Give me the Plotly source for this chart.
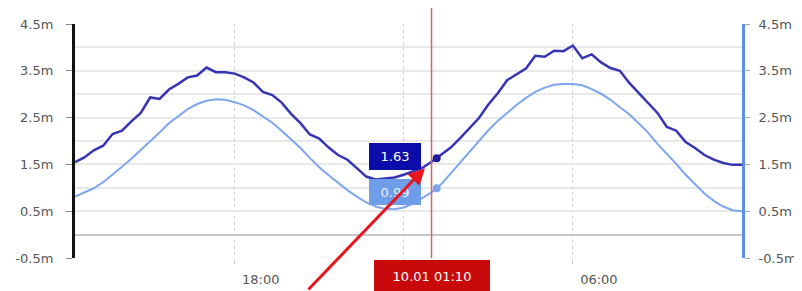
import pandas as pd
import plotly.graph_objects as go

# ---- data ----
times = pd.date_range("2023-09-30 12:20", "2023-10-01 12:00", freq="20min")
measured = [1.55, 1.65, 1.80, 1.90, 2.15, 2.22, 2.42, 2.60, 2.93, 2.90,
            3.10, 3.22, 3.36, 3.40, 3.57, 3.47, 3.47, 3.44, 3.36, 3.25,
            3.05, 2.98, 2.82, 2.58, 2.38, 2.14, 2.05, 1.86, 1.70, 1.60,
            1.42, 1.24, 1.18, 1.20, 1.22, 1.28, 1.36, 1.43, 1.56, 1.72,
            1.86, 2.06, 2.28, 2.49, 2.78, 3.02, 3.30, 3.42, 3.55, 3.82,
            3.80, 3.93, 3.92, 4.04, 3.77, 3.85, 3.68, 3.56, 3.50, 3.24,
            3.02, 2.80, 2.60, 2.30, 2.22, 1.98, 1.85, 1.70, 1.60, 1.53,
            1.49, 1.49]
predicted = [0.81, 0.90, 0.99, 1.12, 1.28, 1.45, 1.62, 1.80, 1.99, 2.18,
             2.38, 2.54, 2.68, 2.79, 2.86, 2.89, 2.88, 2.83, 2.76, 2.66,
             2.53, 2.39, 2.22, 2.04, 1.85, 1.64, 1.44, 1.27, 1.10, 0.95,
             0.81, 0.69, 0.60, 0.55, 0.54, 0.58, 0.66, 0.78, 0.91, 1.08,
             1.31, 1.55, 1.78, 2.01, 2.23, 2.43, 2.61, 2.77, 2.92, 3.05,
             3.14, 3.20, 3.22, 3.22, 3.19, 3.11, 3.01, 2.88, 2.72, 2.57,
             2.38, 2.18, 1.94, 1.73, 1.51, 1.28, 1.07, 0.88, 0.72, 0.60,
             0.52, 0.50]

hover_time = "2023-10-01 01:10"
hover_label = "10.01 01:10"
hover_measured = 1.63
hover_predicted = 0.99
crosshair_time = "2023-10-01 00:59"

y_tickvals = [-0.5, 0.5, 1.5, 2.5, 3.5, 4.5]
y_ticktext = ["-0.5m", "0.5m", "1.5m", "2.5m", "3.5m", "4.5m"]
y_minor = [0, 1, 2, 3, 4]
x_tickvals = ["2023-09-30 18:00", "2023-10-01 00:00", "2023-10-01 06:00"]
x_ticktext = ["18:00", "", "06:00"]

arrow_time = "2023-10-01 00:45"
arrow_value = 1.42

DARK = "#3535b5"
LIGHT = "#7ea6ee"
FONT = "DejaVu Sans"

fig = go.Figure()
fig.add_trace(go.Scatter(x=times, y=measured, mode="lines",
                         line=dict(color=DARK, width=2.5), yaxis="y"))
fig.add_trace(go.Scatter(x=times, y=predicted, mode="lines",
                         line=dict(color=LIGHT, width=2), yaxis="y2"))
fig.add_trace(go.Scatter(x=[hover_time], y=[hover_measured], mode="markers",
                         marker=dict(color="#1c1ca0", size=8), yaxis="y"))
fig.add_trace(go.Scatter(x=[hover_time], y=[hover_predicted], mode="markers",
                         marker=dict(color=LIGHT, size=8), yaxis="y2"))

# crosshair
fig.add_shape(type="line", xref="x", yref="paper", x0=crosshair_time, x1=crosshair_time,
              y0=0, y1=1.08, line=dict(color="#e06060", width=1.5), layer="above")

# hover labels
fig.add_annotation(x=hover_time, y=hover_measured, xref="x", yref="y",
                   text=f"{hover_measured:.2f}", showarrow=False,
                   xanchor="right", yanchor="middle", xshift=-16, yshift=2,
                   bgcolor="#0c0caa", bordercolor="#0c0caa", borderpad=5,
                   width=40, height=15,
                   font=dict(family=FONT, size=13, color="white"))
fig.add_annotation(x=hover_time, y=hover_predicted, xref="x", yref="y2",
                   text=f"{hover_predicted:.2f}", showarrow=False,
                   xanchor="right", yanchor="middle", xshift=-16, yshift=-4,
                   bgcolor="#6e9de9", bordercolor="#6e9de9", borderpad=5,
                   width=40, height=14,
                   font=dict(family=FONT, size=13, color="#eef3fd"))

# time label
fig.add_annotation(x=crosshair_time, y=0, xref="x", yref="paper",
                   text=hover_label, showarrow=False,
                   xanchor="center", yanchor="top", yshift=-2,
                   bgcolor="#c80a0a", bordercolor="#c80a0a", borderpad=7,
                   width=100, height=17,
                   font=dict(family=FONT, size=13, color="white"))

# red arrow
fig.add_annotation(x=arrow_time, y=arrow_value, xref="x", yref="y",
                   text="", showarrow=True, ax=-118, ay=128,
                   arrowhead=2, arrowsize=1.1, arrowwidth=3, arrowcolor="#e8161c",
                   standoff=0)

axis_font = dict(family=FONT, size=13, color="#555555")
fig.update_layout(
    width=794, height=283,
    margin=dict(l=67, r=60, t=16, b=33),
    paper_bgcolor="white", plot_bgcolor="white",
    showlegend=False,
    font=dict(family=FONT),
    xaxis=dict(type="date", automargin=False,
               range=["2023-09-30 12:20", "2023-10-01 12:00"],
               tickvals=x_tickvals, ticktext=x_ticktext,
               showgrid=True, gridcolor="#cfcfcf", griddash="dot", gridwidth=1,
               ticks="outside", ticklen=5, tickcolor="#cccccc",
               ticklabelshift=26, ticklabelstandoff=4,
               showline=False, zeroline=False, tickfont=axis_font),
    yaxis=dict(range=[-0.5, 4.5], automargin=False,
               tickvals=y_tickvals, ticktext=y_ticktext,
               showgrid=True, gridcolor="#e8e8e8", gridwidth=2,
               minor=dict(tickvals=y_minor, showgrid=True, gridcolor="#e8e8e8",
                          gridwidth=2, ticks=""),
               zeroline=True, zerolinecolor="#c6c6c6", zerolinewidth=2,
               showline=True, linecolor="#111111", linewidth=3,
               ticks="outside", ticklen=6, tickcolor="#888888", tickwidth=1,
               ticklabelstandoff=10, tickfont=axis_font),
    yaxis2=dict(range=[-0.5, 4.5], overlaying="y", side="right", automargin=False,
                tickvals=y_tickvals, ticktext=y_ticktext,
                showgrid=False, zeroline=False,
                showline=True, linecolor="#5c8eee", linewidth=3,
                ticks="outside", ticklen=5, tickcolor="#aaaaaa", tickwidth=1,
                ticklabelstandoff=6, tickfont=axis_font),
)

fig.write_html("out.html")
